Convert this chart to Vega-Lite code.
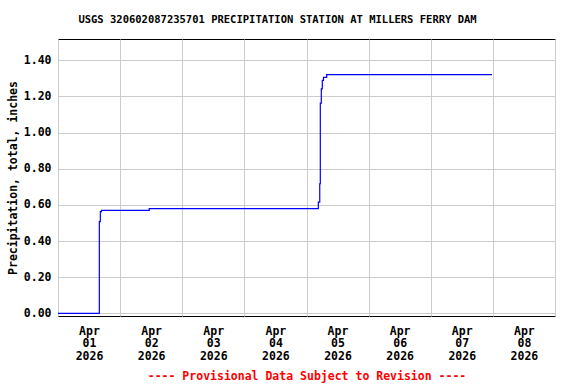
{
  "$schema": "https://vega.github.io/schema/vega-lite/v6.json",
  "width": 497,
  "height": 277,
  "autosize": "none",
  "padding": {"left": 58, "top": 39, "right": 21, "bottom": 68},
  "background": "white",
  "config": {
    "view": {"stroke": "black", "strokeWidth": 1},
    "font": "DejaVu Sans Mono"
  },
  "title": {
    "text": "USGS 320602087235701 PRECIPITATION STATION AT MILLERS FERRY DAM",
    "font": "DejaVu Sans Mono",
    "fontSize": 10.5,
    "fontWeight": "bold",
    "color": "black",
    "anchor": "middle",
    "dx": -29,
    "offset": 14
  },
  "data": {
    "values": [
      {"time": "2026-04-01T00:00:00", "value": 0},
      {"time": "2026-04-01T15:58:00", "value": 0.508},
      {"time": "2026-04-01T16:21:00", "value": 0.563},
      {"time": "2026-04-01T16:48:00", "value": 0.57},
      {"time": "2026-04-02T11:15:00", "value": 0.58},
      {"time": "2026-04-05T04:34:00", "value": 0.615},
      {"time": "2026-04-05T05:07:00", "value": 0.717},
      {"time": "2026-04-05T05:20:00", "value": 1.163},
      {"time": "2026-04-05T05:43:00", "value": 1.241},
      {"time": "2026-04-05T06:06:00", "value": 1.288},
      {"time": "2026-04-05T06:34:00", "value": 1.305},
      {"time": "2026-04-05T07:48:00", "value": 1.32},
      {"time": "2026-04-07T23:40:00", "value": 1.32}
    ]
  },
  "mark": {"type": "line", "interpolate": "step-after", "color": "#0000ff", "strokeWidth": 1.2},
  "encoding": {
    "x": {
      "field": "time",
      "type": "temporal",
      "scale": {"domain": [{"year": 2026, "month": 4, "date": 1}, {"year": 2026, "month": 4, "date": 9}]},
      "axis": {
        "values": [
          {"year": 2026, "month": 4, "date": 1},
          {"year": 2026, "month": 4, "date": 2},
          {"year": 2026, "month": 4, "date": 3},
          {"year": 2026, "month": 4, "date": 4},
          {"year": 2026, "month": 4, "date": 5},
          {"year": 2026, "month": 4, "date": 6},
          {"year": 2026, "month": 4, "date": 7},
          {"year": 2026, "month": 4, "date": 8},
          {"year": 2026, "month": 4, "date": 9}
        ],
        "labelExpr": "date(datum.value) == 9 ? '' : [timeFormat(datum.value, '%b'), timeFormat(datum.value, '%d'), timeFormat(datum.value, '%Y')]",
        "labelOffset": 31,
        "labelAlign": "center",
        "labelBaseline": "top",
        "labelLineHeight": 12.5,
        "labelFont": "DejaVu Sans Mono",
        "labelFontWeight": "bold",
        "labelFontSize": 11.5,
        "labelColor": "black",
        "labelPadding": 9,
        "labelOverlap": false,
        "labelFlush": false,
        "ticks": false,
        "domain": false,
        "grid": true,
        "gridColor": "#cccccc",
        "gridWidth": 1,
        "title": "---- Provisional Data Subject to Revision ----",
        "titleColor": "red",
        "titleFont": "DejaVu Sans Mono",
        "titleFontWeight": "bold",
        "titleFontSize": 11.5,
        "titlePadding": 9
      }
    },
    "y": {
      "field": "value",
      "type": "quantitative",
      "scale": {"domain": [-0.014, 1.517], "nice": false, "zero": false},
      "axis": {
        "values": [0, 0.2, 0.4, 0.6, 0.8, 1.0, 1.2, 1.4],
        "format": ".2f",
        "labelFont": "DejaVu Sans Mono",
        "labelFontWeight": "bold",
        "labelFontSize": 11.5,
        "labelColor": "black",
        "labelPadding": 7,
        "ticks": false,
        "domain": false,
        "grid": true,
        "gridColor": "#cccccc",
        "gridWidth": 1,
        "title": "Precipitation, total, inches",
        "titleFont": "DejaVu Sans Mono",
        "titleFontWeight": "bold",
        "titleFontSize": 11.5,
        "titleColor": "black",
        "titlePadding": 5
      }
    }
  }
}
